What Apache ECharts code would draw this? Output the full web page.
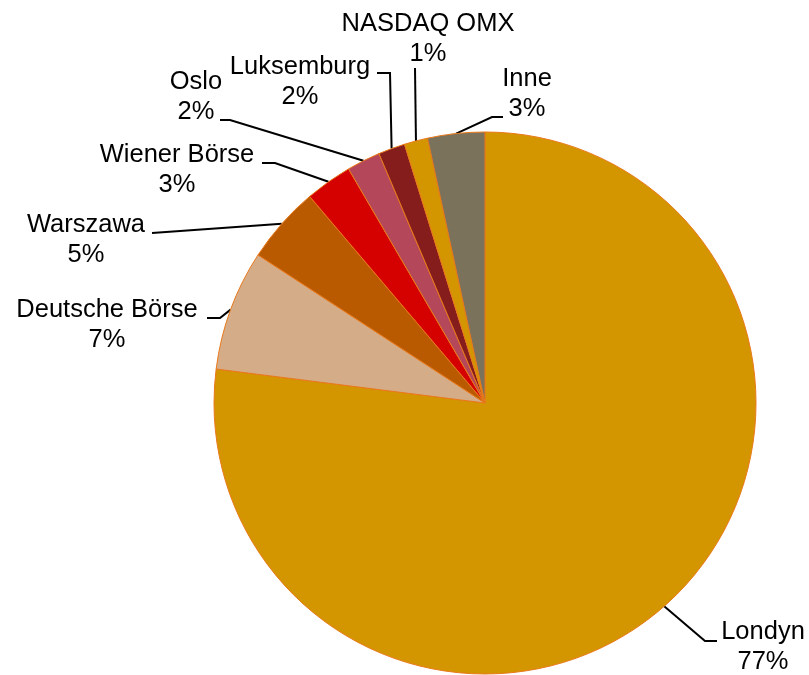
<!DOCTYPE html>
<html>
<head>
<meta charset="utf-8">
<script src="https://cdn.jsdelivr.net/npm/echarts@6/dist/echarts.min.js"></script>
<style>
    html, body { margin: 0; padding: 0; background: #fff; }
    #chart_main { width: 809px; height: 675px; }
</style>
</head>
<body>
<div id="chart_main"></div>
<script>
// dane: udziały giełd (kolejność zgodnie z ruchem wskazówek zegara od góry)
let names = ['Londyn', 'Deutsche Börse', 'Warszawa', 'Wiener Börse', 'Oslo', 'Luksemburg', 'NASDAQ OMX', 'Inne'];
let values = [77.0, 7.2, 4.6, 2.8, 2.0, 1.6, 1.4, 3.4];
let colors = ['#D49600', '#D5AC88', '#B95A00', '#D50000', '#B4475A', '#861D1D', '#D49600', '#7A725A'];

// położenie etykiet: środek tekstu, koniec linii przy tekście, załamanie linii
let labelLayout = {
    'Londyn':         { c: [763, 647], e: [717, 641], k: [705, 641] },
    'Deutsche Börse': { c: [107, 325], e: [207, 318], k: [220, 318] },
    'Warszawa':       { c: [86, 240],  e: [152, 233], k: null },
    'Wiener Börse':   { c: [177, 170], e: [262, 163], k: [275, 163] },
    'Oslo':           { c: [196, 97],  e: [220, 120], k: [230, 120] },
    'Luksemburg':     { c: [300, 82],  e: [377, 73],  k: [390, 73] },
    'NASDAQ OMX':     { c: [428, 39],  e: [415, 68],  k: null },
    'Inne':           { c: [527, 94],  e: [503, 117], k: [492, 117] }
};

let myChart;
(function () {
    myChart = echarts.init(document.getElementById('chart_main'));
    let data = [];
    for (let i = 0; i < names.length; i++) {
        data.push({ name: names[i], value: values[i], itemStyle: { color: colors[i] } });
    }
    let option = {
        animation: false,
        series: [{
            type: 'pie',
            center: [485, 403],
            radius: 271,
            startAngle: 90,
            clockwise: true,
            percentPrecision: 0,
            avoidLabelOverlap: false,
            data: data,
            itemStyle: {
                borderColor: '#E8781A',
                borderWidth: 1
            },
            label: {
                show: true,
                position: 'outside',
                formatter: '{b}\n{d}%',
                fontFamily: 'Liberation Sans, Arial, sans-serif',
                fontSize: 25.5,
                lineHeight: 30,
                color: '#000',
                align: 'center'
            },
            labelLine: {
                show: true,
                length: 10,
                length2: 10,
                lineStyle: { color: '#000', width: 2 }
            },
            labelLayout: function (params) {
                let l = labelLayout[names[params.dataIndex]];
                let start = params.labelLinePoints ? params.labelLinePoints[0] : l.e;
                let pts = [start];
                if (l.k) {
                    pts.push(l.k);
                }
                pts.push(l.e);
                return {
                    x: l.c[0],
                    y: l.c[1],
                    align: 'center',
                    verticalAlign: 'middle',
                    labelLinePoints: pts
                };
            }
        }]
    };
    myChart.setOption(option);
})();
</script>
</body>
</html>
